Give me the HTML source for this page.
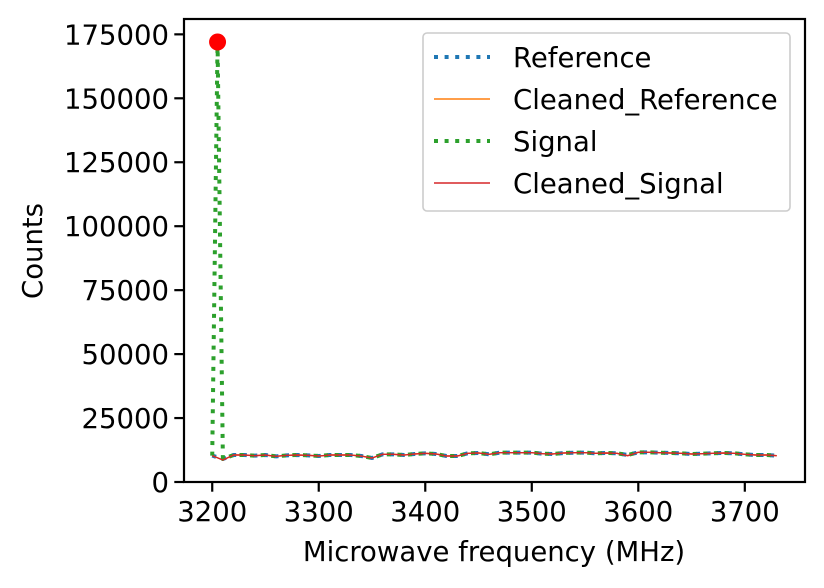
<!DOCTYPE html>
<html><head><meta charset="utf-8">
<style>
html,body{margin:0;padding:0;background:#fff;}
svg{display:block;font-family:"DejaVu Sans","Liberation Sans",sans-serif;}
</style></head>
<body>
<svg id="chart" width="824" height="588" viewBox="0 0 824 588">
  <rect x="0" y="0" width="824" height="588" fill="#fff"/>
  <g id="plot"></g>
  <g id="axes"></g>
  <g id="legend"></g>
</svg>
<script>
const freqs = [3200,3210,3220,3230,3240,3250,3260,3270,3280,3290,3300,3310,3320,3330,3340,3350,3360,3370,3380,3390,3400,3410,3420,3430,3440,3450,3460,3470,3480,3490,3500,3510,3520,3530,3540,3550,3560,3570,3580,3590,3600,3610,3620,3630,3640,3650,3660,3670,3680,3690,3700,3710,3720,3730];
const referenceCounts = [10300,9000,10550,10550,10300,10550,10030,10420,10550,10420,10160,10550,10550,10550,10160,9380,10820,10820,10550,10950,11210,10950,10160,10160,11210,11340,10820,11470,11470,11470,11470,11080,10950,11340,11470,11470,11210,11340,11210,10560,11600,11600,11470,11340,11210,10950,11080,11210,11340,11210,10820,10560,10560,10300];
const cleanedReferenceCounts = [10300,8600,10550,10550,10300,10550,10030,10420,10550,10420,10160,10550,10550,10550,10160,9380,10820,10820,10550,10950,11210,10950,10160,10160,11210,11340,10820,11470,11470,11470,11470,11080,10950,11340,11470,11470,11210,11340,11210,10300,11600,11600,11470,11340,11210,10950,11080,11210,11340,11210,10820,10560,10560,10300];
const signalFreqs = [3200,3205,3210,3220,3230,3240,3250,3260,3270,3280,3290,3300,3310,3320,3330,3340,3350,3360,3370,3380,3390,3400,3410,3420,3430,3440,3450,3460,3470,3480,3490,3500,3510,3520,3530,3540,3550,3560,3570,3580,3590,3600,3610,3620,3630,3640,3650,3660,3670,3680,3690,3700,3710,3720,3730];
const signalCounts = [10300,172000,9000,10550,10550,10300,10550,10030,10420,10550,10420,10160,10550,10550,10550,10160,9380,10820,10820,10550,10950,11210,10950,10160,10160,11210,11340,10820,11470,11470,11470,11470,11080,10950,11340,11470,11470,11210,11340,11210,10560,11600,11600,11470,11340,11210,10950,11080,11210,11340,11210,10820,10560,10560,10300];
const cleanedSignalCounts = cleanedReferenceCounts.slice();
const peakFreq = [3205];
const peakCount = [172000];
const xTicks = [3200,3300,3400,3500,3600,3700];
const yTicks = [0,25000,50000,75000,100000,125000,150000,175000];

const NS="http://www.w3.org/2000/svg";
const L=184,R=805,T=19,B=482;
const xMin=3173.5,xMax=3756.5,yMin=0,yMax=181000;
const FS=27.5;
function sx(v){return L+(v-xMin)/(xMax-xMin)*(R-L);}
function sy(v){return B-(v-yMin)/(yMax-yMin)*(B-T);}
function mk(tag,attrs,parent){const e=document.createElementNS(NS,tag);for(const k in attrs)e.setAttribute(k,attrs[k]);parent.appendChild(e);return e;}
const plot=document.getElementById('plot'),axes=document.getElementById('axes'),legend=document.getElementById('legend');

function line(xs,ys,color,w,dash,name){
  const d=xs.map((x,i)=>(i?'L':'M')+sx(x).toFixed(2)+' '+sy(ys[i]).toFixed(2)).join(' ');
  const p=mk('path',{d:d,fill:'none',stroke:color,'stroke-width':w,'stroke-dasharray':dash||'none','stroke-linejoin':'round'},plot);
  
  
}
line(freqs,referenceCounts,'#1f77b4',4,'4 6.6','reference-line');
line(freqs,cleanedReferenceCounts,'#ff7f0e',1.4,null,'cleaned-reference-line');
line(signalFreqs,signalCounts,'#2ca02c',4,'4 6.6','signal-line');
line(freqs,cleanedSignalCounts,'#d62728',1.4,null,'cleaned-signal-line');
peakFreq.forEach((f,i)=>{
  const c=mk('circle',{cx:sx(f),cy:sy(peakCount[i]),r:8.5,fill:'#ff0000'},plot);
  
  
});

const frame=mk('rect',{x:L,y:T,width:R-L,height:B-T,fill:'none',stroke:'#000','stroke-width':2.2},axes);


xTicks.forEach(t=>{
  const x=sx(t);
  const tk=mk('line',{x1:x,x2:x,y1:B,y2:B+9.7,stroke:'#000','stroke-width':2.2},axes);
  
  
  const tx=mk('text',{x:x,y:521,'font-size':FS,'text-anchor':'middle',fill:'#000'},axes);
  tx.textContent=t;
  
  
});
yTicks.forEach(t=>{
  const y=sy(t);
  const tk=mk('line',{x1:L-9.7,x2:L,y1:y,y2:y,stroke:'#000','stroke-width':2.2},axes);
  
  
  const tx=mk('text',{x:L-15,y:y+10,'font-size':FS,'text-anchor':'end',fill:'#000'},axes);
  tx.textContent=t;
  
  
});
const xl=mk('text',{x:494,y:561,'font-size':FS,'text-anchor':'middle',fill:'#000'},axes);
xl.textContent='Microwave frequency (MHz)';


const yl=mk('text',{x:0,y:0,'font-size':FS,'text-anchor':'middle',fill:'#000',transform:'translate(42,251) rotate(-90)'},axes);
yl.textContent='Counts';



const lb=mk('rect',{x:423,y:33,width:367,height:178,rx:4,fill:'#fff','fill-opacity':0.8,stroke:'#ccc','stroke-width':1.6},legend);


const entries=[['Reference','#1f77b4',4,'4 6.6'],['Cleaned_Reference','#ff7f0e',1.4,null],['Signal','#2ca02c',4,'4 6.6'],['Cleaned_Signal','#d62728',1.4,null]];
entries.forEach((e,i)=>{
  const y=57+i*42;
  const g=mk('g',{},legend);
  
  
  mk('line',{x1:434,x2:490,y1:y,y2:y,stroke:e[1],'stroke-width':e[2],'stroke-dasharray':e[3]||'none'},g);
  const t=mk('text',{x:513,y:y+10,'font-size':FS,fill:'#000'},g);
  t.textContent=e[0];
});
</script>
</body></html>
